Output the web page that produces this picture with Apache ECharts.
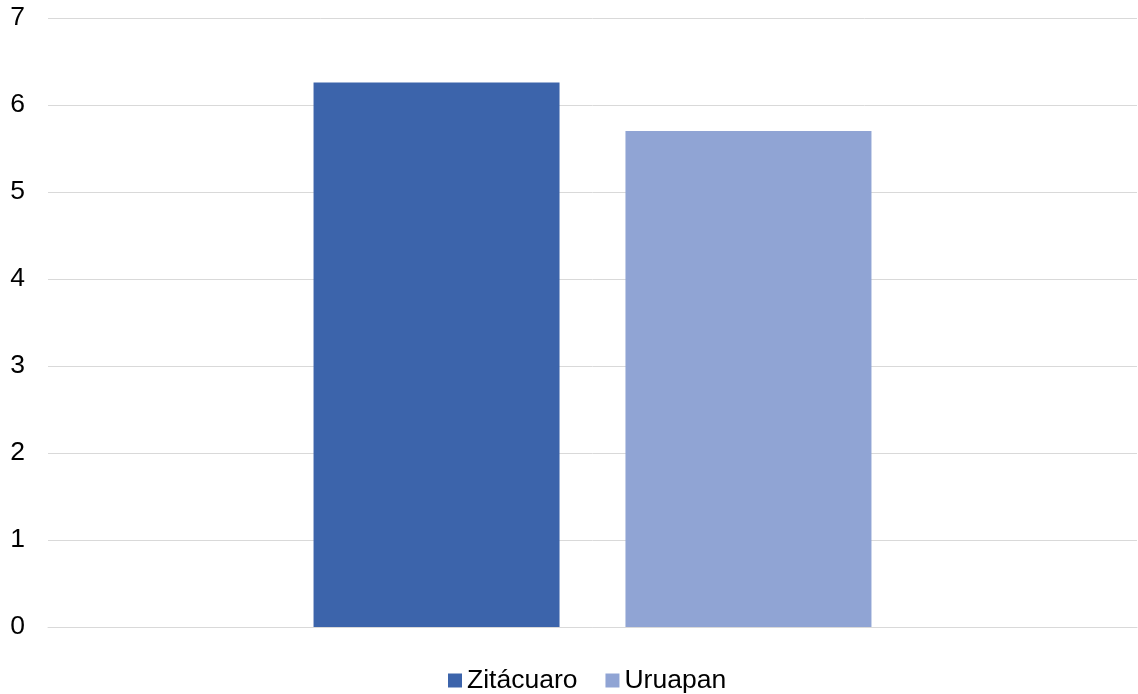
<!DOCTYPE html>
<html>
<head>
<meta charset="utf-8">
<script src="https://cdn.jsdelivr.net/npm/echarts@6/dist/echarts.min.js"></script>
<style>
    html, body { margin: 0; padding: 0; background: #fff; }
    #chart { width: 1138px; height: 694px; }
</style>
</head>
<body>
<div id="chart"></div>
<script>
var categories = [""];
var seriesNames = ["Zitácuaro", "Uruapan"];
var zitacuaro = [6.26];
var uruapan = [5.70];
var yTicks = [0, 1, 2, 3, 4, 5, 6, 7];

(function() {
    var chart = echarts.init(document.getElementById("chart"));
    var font = "Liberation Sans, Arial, sans-serif";
    var option = {
        animation: false,
        grid: { left: 48, right: 1, top: 18, bottom: 67 },
        legend: {
            top: 662,
            left: 443,
            icon: "rect",
            itemWidth: 14,
            itemHeight: 14,
            itemGap: 28,
            textStyle: { fontFamily: font, fontSize: 26.5, color: "#000" },
            data: seriesNames
        },
        xAxis: {
            type: "category",
            data: categories,
            axisLine: { show: true, lineStyle: { color: "#d9d9d9", width: 1 } },
            axisTick: { show: false },
            axisLabel: { show: false }
        },
        yAxis: {
            type: "value",
            min: yTicks[0],
            max: yTicks[yTicks.length - 1],
            interval: 1,
            axisLine: { show: false },
            axisTick: { show: false },
            axisLabel: { fontFamily: font, fontSize: 26.5, color: "#000", margin: 23 },
            splitLine: { lineStyle: { color: "#d9d9d9", width: 1 } }
        },
        series: [{
            name: seriesNames[0],
            type: "bar",
            data: zitacuaro,
            barWidth: 246,
            barGap: "26.8%",
            itemStyle: { color: "#3c64ab" }
        }, {
            name: seriesNames[1],
            type: "bar",
            data: uruapan,
            barWidth: 246,
            itemStyle: { color: "#90a4d4" }
        }]
    };
    chart.setOption(option);
}());
</script>
</body>
</html>
